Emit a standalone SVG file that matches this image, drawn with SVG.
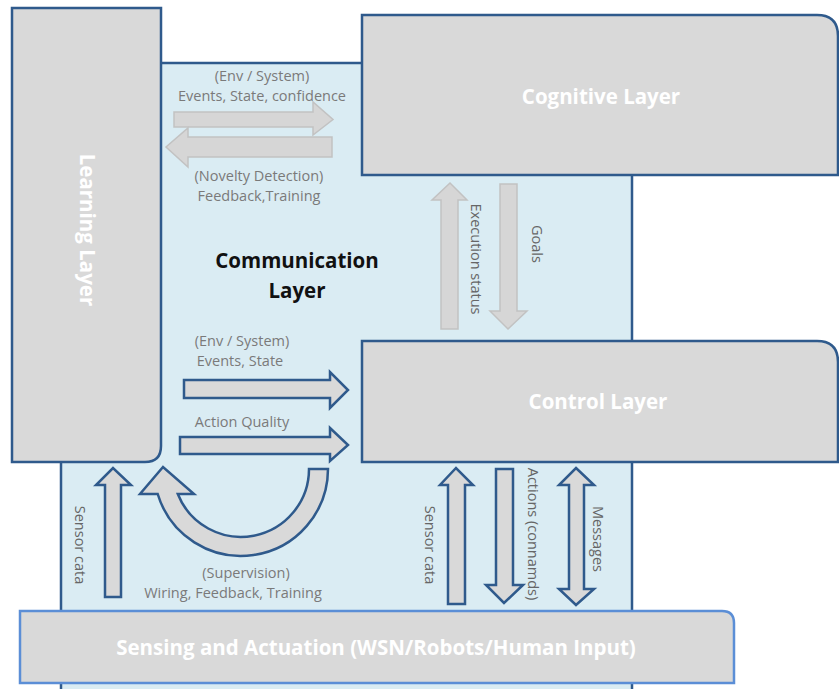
<svg xmlns="http://www.w3.org/2000/svg" width="839" height="689" viewBox="0 0 839 689">
<style>
.layer{fill:#d9d9d9;stroke:#2f5a8c;stroke-width:2.5}
.comm{fill:#daecf3;stroke:#2f5a8c;stroke-width:2.5}
.sense{fill:#d9d9d9;stroke:#5b8ed6;stroke-width:2.5}
.ltitle{font-family:"Open Sans","Liberation Sans",sans-serif;font-weight:bold;fill:#ffffff;font-size:20.5px;text-anchor:middle}
.ctitle{font-family:"Open Sans","Liberation Sans",sans-serif;font-weight:bold;fill:#111111;font-size:20.5px;text-anchor:middle}
.lbl{font-family:"Open Sans","Liberation Sans",sans-serif;fill:#7a7a7a;font-size:14.5px;text-anchor:middle}
.vlbl{font-family:"Open Sans","Liberation Sans",sans-serif;fill:#666666;font-size:14.5px;text-anchor:middle}
.garrow{fill:#d6d6d6;stroke:#c2c2c2;stroke-width:1.5}
.barrow{fill:#d9d9d9;stroke:#2f5a8c;stroke-width:2.5;stroke-linejoin:miter}
</style>
<rect width="839" height="689" fill="#ffffff"/>
<g id="communication-layer">
<rect class="comm" x="61" y="63" width="571" height="640"/>
<text class="ctitle" x="297" y="268">Communication</text>
<text class="ctitle" x="297" y="298">Layer</text>
</g>
<g id="learning-layer">
<path class="layer" d="M12,8 H161 V446 Q161,462 145,462 H12 Z"/>
<text class="ltitle" transform="translate(80,230) rotate(90)">Learning Layer</text>
</g>
<g id="cognitive-layer">
<path class="layer" d="M362,15 H817 Q838,15 838,36 V175 H362 Z"/>
<text class="ltitle" x="601" y="104">Cognitive Layer</text>
</g>
<g id="control-layer">
<path class="layer" d="M362,341 H817 Q838,341 838,362 V462 H362 Z"/>
<text class="ltitle" x="598" y="409">Control Layer</text>
</g>
<g id="sensing-layer">
<path class="sense" d="M20,611 H722 Q734,611 734,623 V683 H20 Z"/>
<text class="ltitle" x="376" y="655">Sensing and Actuation (WSN/Robots/Human Input)</text>
</g>
<g id="connectors">
<path class="garrow" d="M174,112 H313 V102 L333,119.5 L313,135 V127 H174 Z"/>
<path class="garrow" d="M332,137 H188 V128 L166,147 L188,167 V157 H332 Z"/>
<text class="lbl" x="262" y="81">(Env / System)</text>
<text class="lbl" x="262" y="101">Events, State, confidence</text>
<text class="lbl" x="259" y="181">(Novelty Detection)</text>
<text class="lbl" x="259" y="201">Feedback,Training</text>
<path class="garrow" d="M441,329 V200 H432 L450,183 L467,200 H458 V329 Z"/>
<text class="vlbl" transform="translate(471,259) rotate(90)">Execution status</text>
<path class="garrow" d="M500,184 H517 V311 H527 L508,329 L490,311 H500 Z"/>
<text class="vlbl" transform="translate(532,244) rotate(90)">Goals</text>
<path class="barrow" d="M184,380 H330 V372 L348,390 L330,408 V398 H184 Z"/>
<text class="lbl" x="242" y="346">(Env / System)</text>
<text class="lbl" x="240" y="366">Events, State</text>
<path class="barrow" d="M180,437 H330 V428 L348,445 L330,461 V454 H180 Z"/>
<text class="lbl" x="242" y="427">Action Quality</text>
<path class="barrow" d="M105,597 V485 H96 L113,468 L131,485 H121 V597 Z"/>
<text class="vlbl" transform="translate(75,545) rotate(90)">Sensor cata</text>
<path class="barrow" d="M328,469 A87,87 0 0 1 157.7,494 L140,494 L163,467 L194,494 L177.8,494 A68,68 0 0 0 309,469 Z"/>
<text class="lbl" x="246" y="578">(Supervision)</text>
<text class="lbl" x="233" y="598">Wiring, Feedback, Training</text>
<path class="barrow" d="M448,604 V485 H440 L456,468 L473,485 H465 V604 Z"/>
<text class="vlbl" transform="translate(425,545) rotate(90)">Sensor cata</text>
<path class="barrow" d="M496,469 H513 V585 H523 L504,603 L486,585 H496 Z"/>
<text class="vlbl" transform="translate(528,534) rotate(90)">Actions (connamds)</text>
<path class="barrow" d="M576,468 L594,485 H584 V589 H594 L576,605 L559,589 H569 V485 H559 Z"/>
<text class="vlbl" transform="translate(593,539) rotate(90)">Messages</text>
</g>
</svg>
